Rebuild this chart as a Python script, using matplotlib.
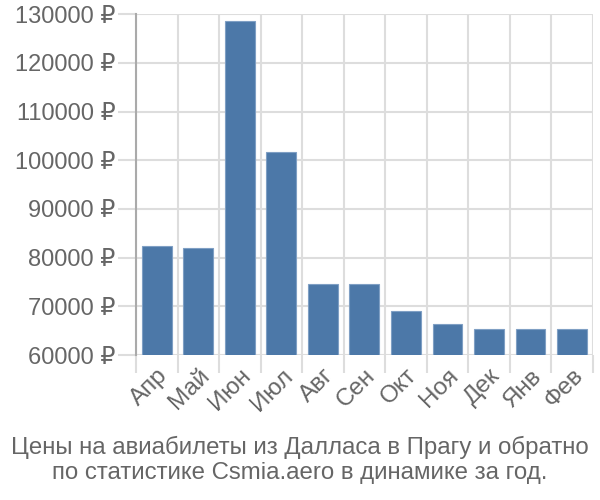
import matplotlib
matplotlib.use('Agg')
import matplotlib.pyplot as plt
import numpy as np

# donnees
mois = ['Апр', 'Май', 'Июн', 'Июл', 'Авг', 'Сен', 'Окт', 'Ноя', 'Дек', 'Янв', 'Фев']
prix = [82400, 81950, 128600, 101650, 74500, 74500, 69000, 66400, 65400, 65400, 65400]
yticks = [60000, 70000, 80000, 90000, 100000, 110000, 120000, 130000]
titre = 'Цены на авиабилеты из Далласа в Прагу и обратно\nпо статистике Csmia.aero в динамике за год.'

plt.rcParams['font.family'] = ['Liberation Sans', 'DejaVu Sans']

fig = plt.figure(figsize=(6, 5), dpi=100)
ax = fig.add_axes([0.2267, 0.29, 0.7613, 0.6814])

x = np.arange(len(mois))
ax.bar(x, prix, width=0.72, bottom=0, color='#4c78a8', edgecolor='#7f9fc4', linewidth=0.8, zorder=3)

ax.set_xlim(-0.5, len(mois) - 0.5)
ax.set_ylim(60000, 130000)

# grille verticale entre les barres
ax.set_xticks(np.arange(-0.5, len(mois) + 0.5, 1), minor=False)
ax.set_xticklabels([])
ax.set_xticks(x, minor=True)
ax.set_xticklabels(mois, minor=True, rotation=45, ha='right', va='top',
                   rotation_mode='anchor', fontsize=17.5, color='#666666')
ax.tick_params(axis='x', which='minor', length=0, pad=7)
ax.tick_params(axis='x', which='major', length=13, color='#dddddd', width=1.5)

ax.set_yticks(yticks)
ax.set_yticklabels([f'{v} ₽' for v in yticks], fontsize=17, color='#666666')
ax.tick_params(axis='y', length=13, color='#dddddd', width=1.5, pad=2)

ax.grid(True, which='major', color='#dddddd', linewidth=1.5, zorder=0)

for s in ['top', 'right', 'bottom']:
    ax.spines[s].set_visible(False)
ax.spines['left'].set_color('#aaaaaa')
ax.spines['left'].set_linewidth(1.5)

fig.text(0.5, 0.08, titre, ha='center', va='center', fontsize=17.3, color='#666666', linespacing=1.15)

fig.savefig('out.png', dpi=100)
